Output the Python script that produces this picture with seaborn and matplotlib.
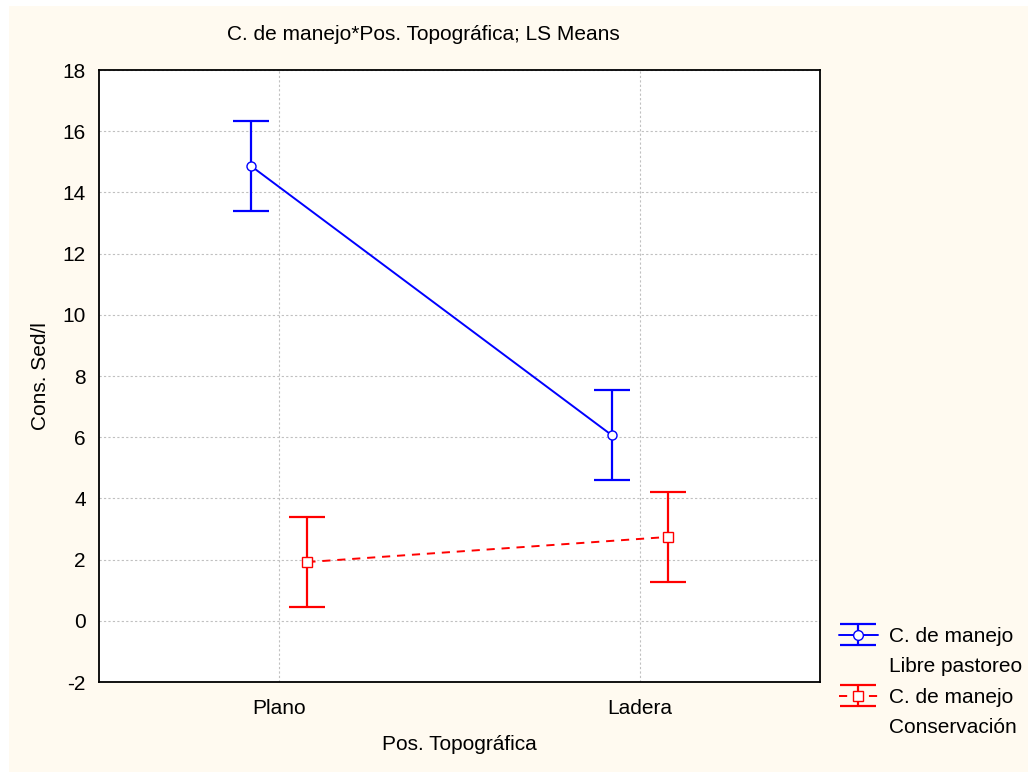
import numpy as np
import pandas as pd
import matplotlib
matplotlib.use("Agg")
import matplotlib.pyplot as plt
import seaborn as sns
from matplotlib.lines import Line2D
from matplotlib.patches import Rectangle

# ---- data ----
categories = ["Plano", "Ladera"]
libre_mean = [14.86, 6.07]
libre_err = [1.47, 1.47]
cons_mean = [1.92, 2.74]
cons_err = [1.47, 1.47]
series_labels = ["C. de manejo\nLibre pastoreo", "C. de manejo\nConservación"]
yticks = [-2, 0, 2, 4, 6, 8, 10, 12, 14, 16, 18]

sns.set_style("white")
plt.rcParams["font.family"] = ["Liberation Sans", "DejaVu Sans"]
plt.rcParams["axes.unicode_minus"] = False
plt.rcParams["text.color"] = "black"
plt.rcParams["axes.labelcolor"] = "black"
FS = 15

fig = plt.figure(figsize=(10.28, 7.72), dpi=100)
fig.patch.set_facecolor("white")
fig.patches.append(Rectangle((9 / 1028, 0), 1 - 9 / 1028, 1 - 6 / 772,
                             transform=fig.transFigure, facecolor="#FFFAF0",
                             edgecolor="none", zorder=-10))

ax = fig.add_axes([99 / 1028, 1 - 682 / 772, (820 - 99) / 1028, (682 - 70) / 772])
ax.set_facecolor("white")

offsets = [-0.078, 0.078]
colors = ["#0000FF", "#FF0000"]
markers = ["o", "s"]
lstyles = ["-", (0, (4.2, 3.5))]
means = [libre_mean, cons_mean]
errs = [libre_err, cons_err]

x_base = np.arange(len(categories))
for i in range(2):
    df = pd.DataFrame({"x": x_base + offsets[i], "y": means[i]})
    ax.errorbar(df["x"], df["y"], yerr=errs[i], fmt="none", ecolor=colors[i],
                elinewidth=1.6, capsize=13, capthick=1.6, zorder=2)
    sns.lineplot(data=df, x="x", y="y", ax=ax, color=colors[i], marker=markers[i],
                 markersize=6.5, markerfacecolor="white", markeredgecolor=colors[i],
                 markeredgewidth=1.0, linestyle=lstyles[i], linewidth=1.4,
                 legend=False, zorder=3)

ax.set_xlim(-0.5, 1.5)
ax.set_ylim(-2, 18)
ax.set_xticks(x_base)
ax.set_xticklabels(categories)
ax.set_yticks(yticks)
ax.tick_params(axis="both", direction="out", length=2.5, width=1, labelsize=FS,
               colors="black")
ax.tick_params(axis="y", pad=7)
ax.tick_params(axis="x", pad=10)
ax.grid(True, color="#c0c0c0", linestyle=(0, (2, 2)), linewidth=0.8)
for s in ax.spines.values():
    s.set_color("black")
    s.set_linewidth(1.3)

ax.set_xlabel("Pos. Topográfica", fontsize=FS, labelpad=12)
ax.set_ylabel("Cons. Sed/l", fontsize=FS, labelpad=9)
fig.text(423 / 1028, 1 - 35 / 772, "C. de manejo*Pos. Topográfica; LS Means",
         fontsize=FS, ha="center", va="center")

# legend
handles = []
labels = []
for i in range(2):
    h = ax.errorbar([np.nan], [np.nan], yerr=[1], fmt=markers[i], color=colors[i],
                    linestyle=lstyles[i], linewidth=1.4, markersize=7,
                    markerfacecolor="white", markeredgecolor=colors[i],
                    elinewidth=1.6, capsize=13, capthick=1.6)
    first, second = series_labels[i].split("\n")
    handles += [h, Line2D([], [], linestyle="none")]
    labels += [first, second]

leg = fig.legend(handles, labels, loc="upper left",
                 bbox_to_anchor=(839 / 1028, 1 - 627 / 772),
                 frameon=False, fontsize=FS, handlelength=1.85, handletextpad=0.55,
                 labelspacing=0.55, borderaxespad=0, borderpad=0)

fig.savefig("out.png", dpi=100, facecolor=fig.get_facecolor())
